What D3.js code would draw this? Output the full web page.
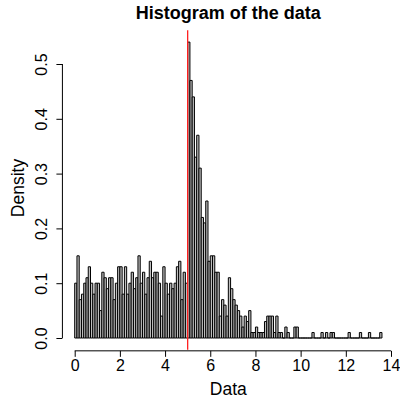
<!DOCTYPE html>
<html>
<head>
<meta charset="utf-8">
<script src="https://cdn.jsdelivr.net/npm/d3@7"></script>
<style>
  body { margin: 0; background: #fff; }
  text { font-family: "Liberation Sans", Arial, sans-serif; fill: #000; }
</style>
</head>
<body>
<div id="chart"></div>
<script>
// Histogram data: breaks of width 0.1 from 0 to 13.6, density per bin
const binWidth = 0.1;
const binStart = 0;
const densities = [
  0.10, 0.15, 0.07, 0.08, 0.10, 0.11, 0.13, 0.10, 0.08, 0.10,
  0.10, 0.05, 0.12, 0.11, 0.09, 0.11, 0.11, 0.07, 0.10, 0.13,
  0.13, 0.08, 0.13, 0.08, 0.10, 0.12, 0.09, 0.11, 0.15, 0.10,
  0.12, 0.08, 0.11, 0.14, 0.11, 0.12, 0.12, 0.10, 0.04, 0.13,
  0.10, 0.08, 0.10, 0.09, 0.10, 0.13, 0.14, 0.07, 0.12, 0.10,
  0.54, 0.47, 0.44, 0.33, 0.37, 0.31, 0.22, 0.21, 0.25, 0.14,
  0.15, 0.15, 0.12, 0.12, 0.04, 0.07, 0.06, 0.04, 0.11, 0.09,
  0.07, 0.06, 0.05, 0.04, 0.02, 0.04, 0.03, 0.05, 0.01, 0.01,
  0.02, 0.01, 0.01, 0.01, 0.03, 0.04, 0.04, 0.04, 0.01, 0.04,
  0.01, 0.01, 0.00, 0.02, 0.01, 0.00, 0.00, 0.02, 0.02, 0.00,
  0.00, 0.00, 0.00, 0.00, 0.00, 0.01, 0.00, 0.00, 0.00, 0.01,
  0.00, 0.01, 0.00, 0.01, 0.01, 0.00, 0.00, 0.00, 0.00, 0.00,
  0.00, 0.01, 0.00, 0.00, 0.00, 0.00, 0.01, 0.00, 0.00, 0.00,
  0.01, 0.00, 0.00, 0.00, 0.00, 0.01
];
const xTicks = [0, 2, 4, 6, 8, 10, 12, 14];
const yTicks = [0.0, 0.1, 0.2, 0.3, 0.4, 0.5];
const markLine = 5;
const titleText = "Histogram of the data";
const xLabel = "Data";
const yLabel = "Density";

const width = 400, height = 402;

const svg = d3.select("#chart").append("svg")
  .attr("width", width)
  .attr("height", height);

// scales (R usr extends 4% past data range)
const x = d3.scaleLinear().domain([0, 14]).range([74.7, 391]);
const y = d3.scaleLinear().domain([0, 0.5]).range([338, 64]);
const plotTop = y(0.5616), plotBottom = y(-0.0216);

// bars as closed paths so empty bins still show a flat line
const bars = densities.map((d, i) => ({
  x0: binStart + i * binWidth,
  x1: binStart + (i + 1) * binWidth,
  d: d
}));
svg.append("g")
  .selectAll("path")
  .data(bars)
  .enter()
  .append("path")
  .attr("d", b => `M${x(b.x0)},${y(0)}V${y(b.d)}H${x(b.x1)}V${y(0)}Z`)
  .attr("fill", "#bebebe")
  .attr("stroke", "#000")
  .attr("stroke-width", 1);

// red vertical line
svg.append("line")
  .attr("x1", x(markLine)).attr("x2", x(markLine))
  .attr("y1", plotTop).attr("y2", plotBottom)
  .attr("stroke", "#ff2020")
  .attr("stroke-width", 1.3);

// x axis
const xAxis = d3.axisBottom(x).tickValues(xTicks).tickSize(6).tickPadding(3)
  .tickFormat(d3.format("d"));
const gx = svg.append("g")
  .attr("transform", `translate(0,${plotBottom + 1})`)
  .call(xAxis);
gx.select(".domain").attr("d", `M${x(0)},0H${x(14)}`);
gx.selectAll("text").style("font-size", "16px")
  .attr("font-family", "Liberation Sans, Arial, sans-serif");

// y axis
const yAxis = d3.axisLeft(y).tickValues(yTicks).tickSize(6).tickPadding(0)
  .tickFormat(d3.format(".1f"));
const gy = svg.append("g")
  .attr("transform", `translate(${x(-0.544)},0)`)
  .call(yAxis);
gy.select(".domain").attr("d", `M0,${y(0)}V${y(0.5)}`);
gy.selectAll(".tick text")
  .style("font-size", "16px")
  .attr("font-family", "Liberation Sans, Arial, sans-serif")
  .attr("text-anchor", "middle")
  .attr("dy", 0)
  .attr("x", 0)
  .attr("transform", "translate(-15.5,0) rotate(-90)");

// title and labels
svg.append("text")
  .attr("x", (x(-0.544) + x(14.144)) / 2)
  .attr("y", 19)
  .attr("text-anchor", "middle")
  .style("font-size", "18px")
  .style("font-weight", "bold")
  .text(titleText);

svg.append("text")
  .attr("x", (x(-0.544) + x(14.144)) / 2)
  .attr("y", 395)
  .attr("text-anchor", "middle")
  .style("font-size", "17.5px")
  .text(xLabel);

svg.append("text")
  .attr("transform", `translate(24,${(plotTop + plotBottom) / 2 - 2}) rotate(-90)`)
  .attr("text-anchor", "middle")
  .style("font-size", "17.5px")
  .text(yLabel);
</script>
</body>
</html>
